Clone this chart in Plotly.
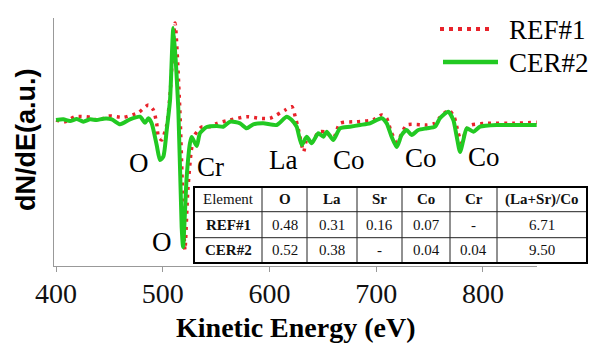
import plotly.graph_objects as go

# ---------------- data ----------------
ref_energy = [400, 408.4, 417.8, 431.9, 439.7, 449.1, 463.1, 477.1, 486.5, 491.2, 494.3, 495.9, 499.0,
              503.7, 506.8, 511.5, 516.0, 519.4, 520.8, 523.5, 526.8, 529.9, 536.4, 544.0, 551.0,
              563.0, 578.6, 591.0, 600.4, 614.7, 621.0, 624.1, 627.2, 632.0, 634.8, 640.0, 646.0,
              652.0, 660.0, 666.0, 681.6, 697.0, 705.1, 709.8, 714.0, 719.5, 728.5, 747.3, 755.0,
              760.0, 768.0, 773.0, 776.9, 780.1, 784.0, 788.8, 804.3, 829.0, 850.3]
ref_signal = [0, -1.7, 3.3, 2.7, -0.7, 4, 2.7, 7.3, 15, 10, -3.3, -16.7, -20,
              -5, 25, 97, 10, -100, -130, -70, -30, -15, -7, -6.7, -3.3,
              0, 3.3, 1.7, 1.7, 10, 13.3, 3.3, -10, -31.7, -20, -22, -12,
              -12, -18, -3.3, -1.7, 0, 5, 1.7, -12, -22, -5, -5, -3.3,
              3, 10, 3, -13.3, -23, -10, -5, -3.3, -3.3, -2.3]

cer_energy = [400, 406.8, 413.1, 419.4, 425.6, 431.9, 438.1, 444.3, 452.2, 460.0, 469.3, 478.7, 483.4,
              486.5, 489.6, 494.3, 497.4, 500.5, 503.7, 506.8, 509.9, 514.6, 517.7, 519.0, 522.4,
              525.5, 527.1, 531.8, 534.9, 541.2, 550.5, 556.7, 563.0, 572.4, 578.6, 584.8, 594.2,
              606.7, 616.1, 620.8, 625.4, 630.2, 634.8, 639.5, 645.7, 650.4, 653.6, 659.8, 666.0,
              675.4, 684.8, 694.1, 705.1, 709.8, 714.4, 719.2, 723.8, 728.5, 733.2, 739.4, 747.3,
              755.0, 759.7, 767.5, 772.2, 775.4, 778.5, 781.6, 784.8, 791.0, 797.2, 812.8, 828.4, 850.3]
cer_signal = [0, 0.7, -1, 1, -1.7, 0.7, 0, 1.3, 0.7, -4.3, 0.7, 3.3, -2.7,
              1.7, -3.3, -25, -40, -36.7, -10, 20, 92, 10, -107, -127, -57,
              -23, -17, -26, -13, -7, -6, -6.7, -1.7, -3.3, -8.3, -4.3, -3.3,
              -5, 3.3, 0, -6.7, -25, -16.7, -23.3, -13.3, -16.7, -11.7, -20, -8.3,
              -6.7, -5, -3.3, 1.7, -3.3, -16.7, -27, -15, -10, -15, -10, -8.3,
              -6.7, 1.7, 8.3, 0, -16.7, -32, -20, -8.3, -11.7, -6.7, -5, -5, -5]

x_ticks = [400, 500, 600, 700, 800]

peak_labels = ["O", "Cr", "La", "Co", "Co", "Co", "O"]
peak_label_energy = [477.8, 544.3, 612.6, 674.5, 741.9, 800.9, 499.3]
peak_label_signal = [-43, -47, -40, -40, -38, -37, -122]

table_header = ["Element", "O", "La", "Sr", "Co", "Cr", "(La+Sr)/Co"]
table_rows = [["REF#1", "0.48", "0.31", "0.16", "0.07", "-", "6.71"],
              ["CER#2", "0.52", "0.38", "-", "0.04", "0.04", "9.50"]]

series_names = ["REF#1", "CER#2"]
RED = "#E8232B"
GREEN = "#22C922"

# ---------------- layout geometry (pixels) ----------------
W, H = 591, 343
ML, MR, MT, MB = 54, 54, 18, 77
PW, PH = W - ML - MR, H - MT - MB


def px(x):
    return (x - ML) / PW


def py(y):
    return (H - MB - y) / PH


SERIF = "Liberation Serif"
SANS = "Liberation Sans"

fig = go.Figure()
fig.add_trace(go.Scatter(x=ref_energy, y=ref_signal, mode="lines", name=series_names[0],
                         line=dict(color=RED, width=3.5, dash="3px,5px", shape="spline", smoothing=0.6),
                         showlegend=False))
fig.add_trace(go.Scatter(x=cer_energy, y=cer_signal, mode="lines", name=series_names[1],
                         line=dict(color=GREEN, width=4, shape="spline", smoothing=0.6),
                         showlegend=False))

annotations = []
shapes = []

# peak labels
for t, e, s in zip(peak_labels, peak_label_energy, peak_label_signal):
    annotations.append(dict(x=e, y=s, xref="x", yref="y", text=t, showarrow=False,
                            font=dict(family=SERIF, size=27, color="black"),
                            xanchor="center", yanchor="middle"))

# legend (drawn manually)
leg_rows = [(29, RED, "dot"), (62, GREEN, "solid")]
for (ly, col, dash), name in zip(leg_rows, series_names):
    shapes.append(dict(type="line", xref="paper", yref="paper",
                       x0=px(440 if dash == "dot" else 443), x1=px(494 if dash == "dot" else 498),
                       y0=py(ly), y1=py(ly),
                       line=dict(color=col, width=4 if dash == "dot" else 4.5,
                                 dash="4px,5px" if dash == "dot" else "solid")))
    annotations.append(dict(x=px(507), y=py(ly + 1), xref="paper", yref="paper", text=name,
                            showarrow=False, xanchor="left", yanchor="middle",
                            font=dict(family=SERIF, size=27, color="black")))

# table
col_edges = [194, 262, 307, 357, 402, 450, 497, 587]
row_edges = [187, 211.7, 237.7, 263]
shapes.append(dict(type="rect", xref="paper", yref="paper",
                   x0=px(col_edges[0]), x1=px(col_edges[-1]), y0=py(row_edges[-1]), y1=py(row_edges[0]),
                   fillcolor="white", line=dict(width=0), layer="above"))
for xe in col_edges[1:-1]:
    shapes.append(dict(type="line", xref="paper", yref="paper", x0=px(xe), x1=px(xe),
                       y0=py(row_edges[-1]), y1=py(row_edges[0]), line=dict(color="#222", width=1)))
for ye in row_edges[1:-1]:
    shapes.append(dict(type="line", xref="paper", yref="paper", x0=px(col_edges[0]), x1=px(col_edges[-1]),
                       y0=py(ye), y1=py(ye), line=dict(color="#222", width=1)))
shapes.append(dict(type="rect", xref="paper", yref="paper",
                   x0=px(col_edges[0]), x1=px(col_edges[-1]), y0=py(row_edges[-1]), y1=py(row_edges[0]),
                   line=dict(color="black", width=2)))

all_rows = [table_header] + table_rows
for r, row in enumerate(all_rows):
    yc = (row_edges[r] + row_edges[r + 1]) / 2
    for c, txt in enumerate(row):
        xc = (col_edges[c] + col_edges[c + 1]) / 2
        bold = (r == 0 and c > 0) or (c == 0 and r > 0)
        annotations.append(dict(x=px(xc), y=py(yc), xref="paper", yref="paper",
                                text=f"<b>{txt}</b>" if bold else txt, showarrow=False,
                                xanchor="center", yanchor="middle",
                                font=dict(family=SERIF, size=15, color="#111")))

# axis titles
annotations.append(dict(x=px(296), y=py(327), xref="paper", yref="paper",
                        text="<b>Kinetic Energy (eV)</b>", showarrow=False,
                        xanchor="center", yanchor="middle",
                        font=dict(family=SERIF, size=28, color="black")))
annotations.append(dict(x=px(26), y=py(140), xref="paper", yref="paper",
                        text="<b>dN/dE(a.u.)</b>", showarrow=False, textangle=-90,
                        xanchor="center", yanchor="middle",
                        font=dict(family=SANS, size=27, color="black")))

fig.update_layout(
    width=W, height=H,
    margin=dict(l=ML, r=MR, t=MT, b=MB),
    paper_bgcolor="white", plot_bgcolor="white",
    annotations=annotations, shapes=shapes,
    showlegend=False,
)
fig.update_xaxes(range=[398.1, 850.6], tickvals=x_ticks, ticks="outside", ticklen=5,
                 tickcolor="#999", showline=True, linecolor="#999", linewidth=1,
                 showgrid=False, zeroline=False, ticklabelstandoff=-3,
                 tickfont=dict(family=SERIF, size=28, color="#111"))
fig.update_yaxes(range=[-146, 102], showticklabels=False, ticks="", showline=True,
                 linecolor="#999", linewidth=1, showgrid=False, zeroline=False)

fig.write_html("out.html", config={"displayModeBar": False},
               post_script="document.body.style.margin='0';document.body.style.overflow='hidden';")
